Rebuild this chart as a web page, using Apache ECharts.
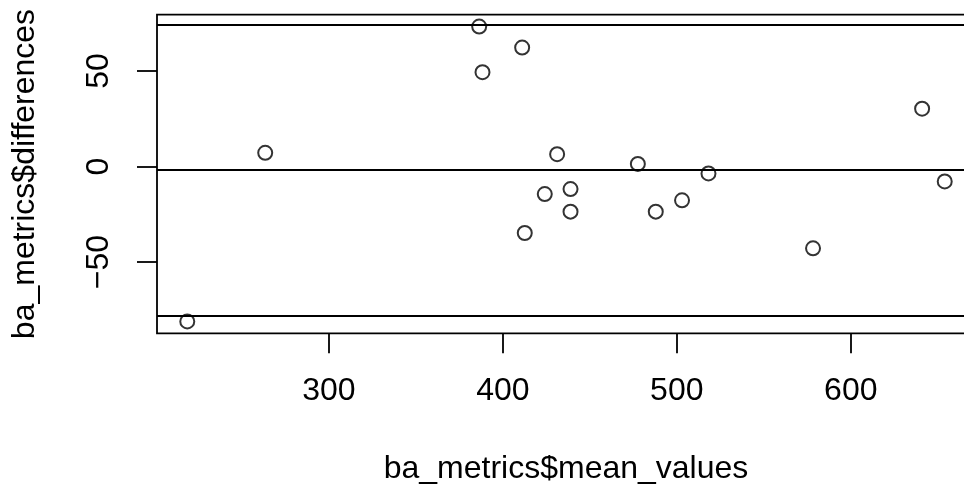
<!DOCTYPE html>
<html>
<head>
<meta charset="utf-8">
<title>Bland-Altman</title>
<script src="https://cdn.jsdelivr.net/npm/echarts@6/dist/echarts.min.js"></script>
<style>
  html, body { margin: 0; padding: 0; background: #fff; }
  #chart { width: 964px; height: 487px; }
</style>
</head>
<body>
<div id="chart"></div>
<script>
// valores
var meanValues = [263.4, 386.4, 411.1, 388.3, 641.0, 431.2, 477.6, 518.2, 218.6,
                  412.6, 424.1, 438.9, 438.9, 487.9, 503.0, 578.3, 654.0];
var differences = [7.2, 73.3, 62.3, 49.4, 30.3, 6.5, 1.4, -3.6, -81.1,
                   -34.8, -14.4, -11.8, -23.6, -23.6, -17.7, -42.8, -7.8];

// media y limites de acuerdo
var refLines = [-1.9, 74.0, -77.9];

var xTicks = [300, 400, 500, 600];
var yTicks = [-50, 0, 50];
var xRange = [201.2, 671.4];
var yRange = [-87.3, 79.5];

var fuente = "'Liberation Sans', Arial, Helvetica, sans-serif";

var puntos = meanValues.map(function(v, i) { return [v, differences[i]]; });

var chart = echarts.init(document.getElementById('chart'), null, { renderer: 'canvas' });
chart.setOption({
    animation: false,
    backgroundColor: '#fff',
    textStyle: { fontFamily: fuente, color: '#000' },
    grid: {
        left: 157,
        top: 14.7,
        right: -11,
        bottom: 153.7,
        show: true,
        borderColor: '#000',
        borderWidth: 1.8,
        backgroundColor: 'transparent',
        outerBoundsMode: 'none',
        containLabel: false
    },
    xAxis: {
        type: 'value',
        min: xRange[0],
        max: xRange[1],
        name: 'ba_metrics$mean_values',
        nameLocation: 'middle',
        nameGap: 120,
        nameTextStyle: { fontSize: 32, color: '#000', fontFamily: fuente },
        axisLine: { show: false, onZero: false },
        splitLine: { show: false },
        axisTick: {
            show: true,
            length: 20,
            customValues: xTicks,
            lineStyle: { color: '#000', width: 1.8 }
        },
        axisLabel: {
            customValues: xTicks,
            margin: 42,
            fontSize: 32,
            color: '#000',
            fontFamily: fuente
        }
    },
    yAxis: {
        type: 'value',
        min: yRange[0],
        max: yRange[1],
        name: 'ba_metrics$differences',
        nameLocation: 'middle',
        nameGap: 116,
        nameTextStyle: { fontSize: 32, color: '#000', fontFamily: fuente },
        axisLine: { show: false, onZero: false },
        splitLine: { show: false },
        axisTick: {
            show: true,
            length: 20,
            customValues: yTicks,
            lineStyle: { color: '#000', width: 1.8 }
        },
        axisLabel: {
            customValues: yTicks,
            rotate: 90,
            margin: 42,
            fontSize: 32,
            color: '#000',
            fontFamily: fuente,
            formatter: function(v) { return String(v).replace('-', '\u2212'); }
        }
    },
    series: [{
        type: 'scatter',
        data: puntos,
        symbol: 'circle',
        symbolSize: 14,
        itemStyle: {
            color: 'rgba(0,0,0,0)',
            borderColor: '#000',
            borderWidth: 2
        },
        emphasis: { disabled: true },
        markLine: {
            silent: true,
            symbol: ['none', 'none'],
            label: { show: false },
            lineStyle: { color: '#000', type: 'solid', width: 1.8 },
            data: refLines.map(function(v) { return { yAxis: v }; })
        }
    }]
});
</script>
</body>
</html>
